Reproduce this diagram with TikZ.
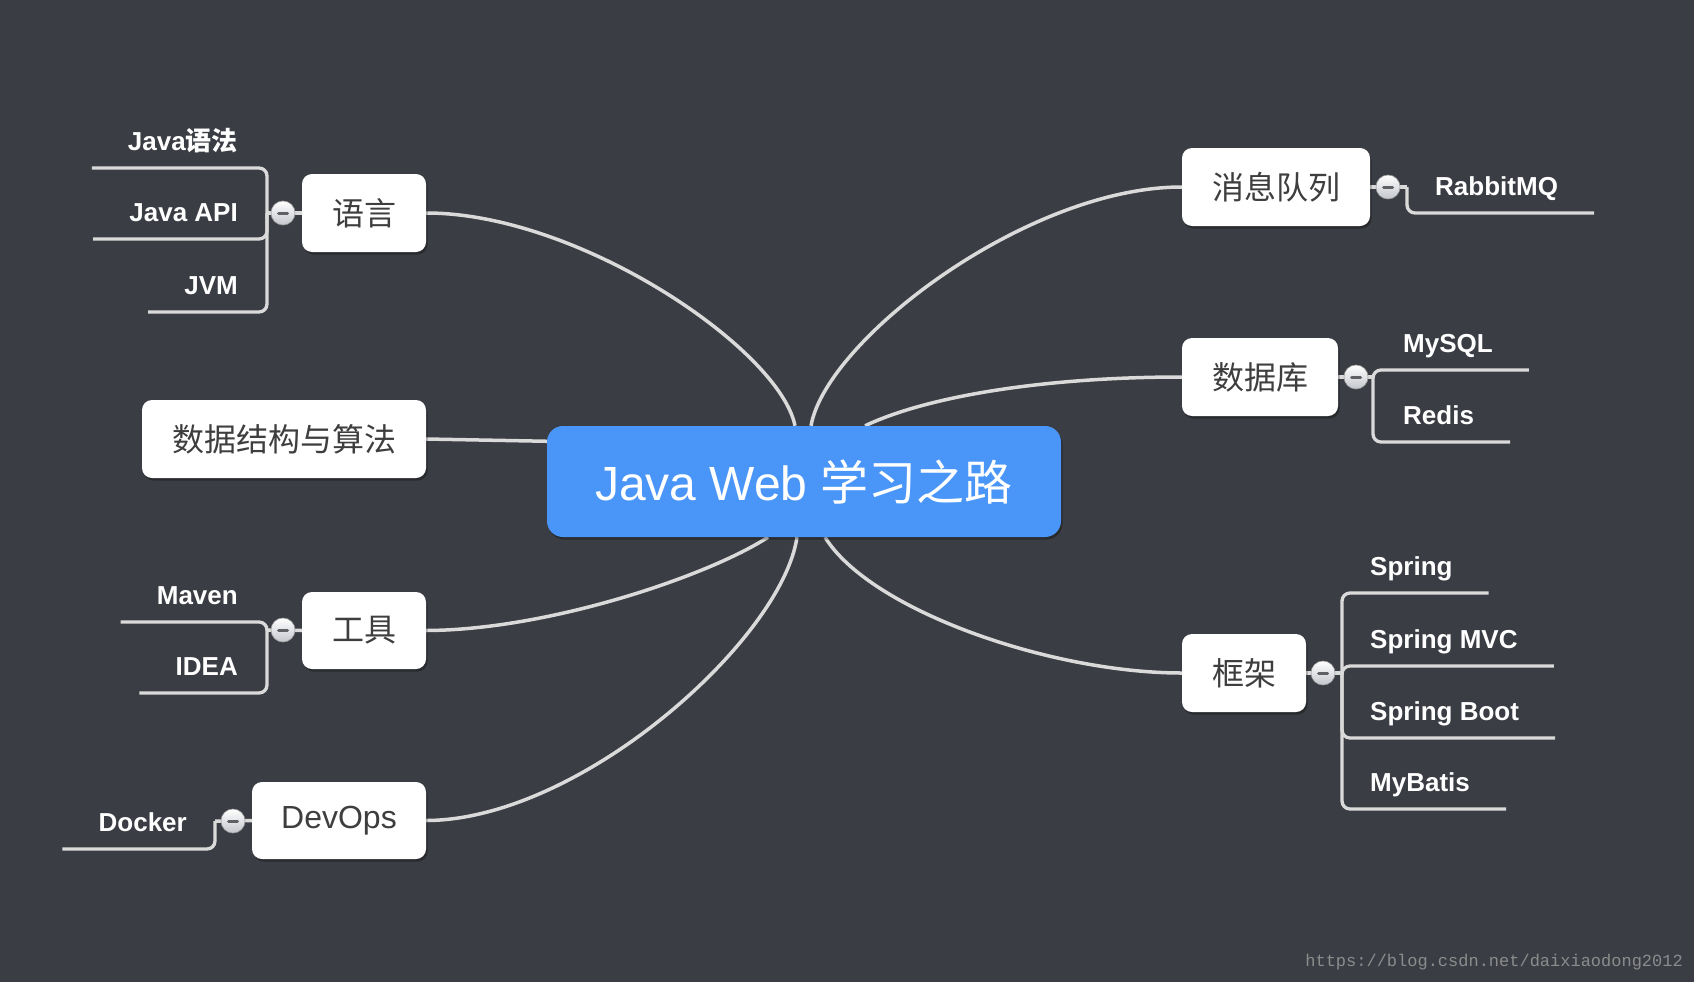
\documentclass[tikz,border=0pt]{standalone}
\usepackage{fontspec}
\setmainfont{Liberation Sans}
\newfontfamily\cjk{Noto Sans CJK SC}
\newfontfamily\wmfont{Liberation Mono}
\usetikzlibrary{shadows,calc}
\definecolor{bgc}{RGB}{58,61,67}
\definecolor{linec}{RGB}{218,218,218}
\definecolor{rootblue}{RGB}{74,150,248}
\definecolor{boxtext}{RGB}{62,62,62}
\definecolor{collgray}{RGB}{196,198,204}
\definecolor{minusc}{RGB}{95,95,100}
\definecolor{wmc}{RGB}{140,140,140}
\pgfdeclarelayer{back}
\pgfsetlayers{back,main}
\tikzset{
  rootbox/.style={fill=rootblue, rounded corners=16pt, inner sep=0pt, text=white,
    font=\fontsize{48}{56}\selectfont,
    drop shadow={shadow xshift=1.5pt, shadow yshift=-2.5pt, opacity=0.3, fill=black}},
  topic/.style={fill=white, rounded corners=10pt, inner sep=0pt, text=boxtext,
    font=\cjk\fontsize{32}{36}\selectfont,
    drop shadow={shadow xshift=1.5pt, shadow yshift=-2.5pt, opacity=0.3, fill=black}},
  leaf/.style={inner sep=0pt, text=white, font=\bfseries\fontsize{26}{30}\selectfont},
  branch/.style={draw=linec, line width=3.5pt},
  sub/.style={draw=linec, line width=3.3pt, rounded corners=8pt},
  collapse/.style={circle, minimum size=24pt, inner sep=0pt, draw=gray!75, line width=0.6pt,
    top color=white, bottom color=collgray,
    path picture={\draw[line width=3pt, draw=minusc, line cap=round]
      ([xshift=-4.5pt]path picture bounding box.center) -- ([xshift=4.5pt]path picture bounding box.center);}},
}
\begin{document}
\begin{tikzpicture}[x=1pt,y=-1pt]
\useasboundingbox (0,0) rectangle (1694,982);

% root and main topics
\node[rootbox, minimum width=514pt, minimum height=111pt] (root) at (804,481.5) {Java Web {\cjk 学习之路}};
\node[topic, minimum width=124pt, minimum height=78pt] (lang) at (364,213) {语言};
\node[topic, minimum width=284pt, minimum height=78pt] (dsa) at (284,439) {数据结构与算法};
\node[topic, minimum width=124pt, minimum height=77pt] (tool) at (364,630.5) {工具};
\node[topic, minimum width=174pt, minimum height=77pt, font=\fontsize{32}{36}\selectfont] (devops) at (339,820.5) {DevOps};
\node[topic, minimum width=188pt, minimum height=78pt] (mq) at (1276,187) {消息队列};
\node[topic, minimum width=156pt, minimum height=78pt] (db) at (1260,377) {数据库};
\node[topic, minimum width=124pt, minimum height=78pt] (fw) at (1244,673) {框架};

% collapse buttons
\node[collapse] (clang) at (283,213) {};
\node[collapse] (ctool) at (283,630) {};
\node[collapse] (cdev) at (233,821) {};
\node[collapse] (cmq) at (1388,187) {};
\node[collapse] (cdb) at (1356,377) {};
\node[collapse] (cfw) at (1323,673) {};

% junctions
\coordinate (jlang) at (267,213);
\coordinate (jtool) at (267,630);
\coordinate (jdev) at (215,821);
\coordinate (jmq) at (1407,187);
\coordinate (jdb) at (1373,377);
\coordinate (jfw) at (1342,673);

% leaves (left)
\node[leaf, anchor=base east] (l1) at (238,150.5) {Java{\cjk 语法}};
\node[leaf, anchor=base east] (l2) at (238,221.5) {Java API};
\node[leaf, anchor=base east] (l3) at (238,294.5) {JVM};
\node[leaf, anchor=base east] (t1) at (238,604.5) {Maven};
\node[leaf, anchor=base east] (t2) at (238,675.5) {IDEA};
\node[leaf, anchor=base east] (d1) at (187,831.5) {Docker};
% leaves (right)
\node[leaf, anchor=base west] (m1) at (1435,195.5) {RabbitMQ};
\node[leaf, anchor=base west] (b1) at (1403,352.5) {MySQL};
\node[leaf, anchor=base west] (b2) at (1403,424.5) {Redis};
\node[leaf, anchor=base west] (f1) at (1370,575.5) {Spring};
\node[leaf, anchor=base west] (f2) at (1370,648.5) {Spring MVC};
\node[leaf, anchor=base west] (f3) at (1370,720.5) {Spring Boot};
\node[leaf, anchor=base west] (f4) at (1370,791.5) {MyBatis};

% watermark
\node[anchor=east, inner sep=0pt, text=wmc, font=\wmfont\fontsize{17}{20}\selectfont] (wm) at (1683,962) {https://blog.csdn.net/daixiaodong2012};

\begin{pgfonlayer}{back}
\fill[bgc] (0,0) rectangle (1694,982);
% main branches
\draw[branch] ([xshift=-9pt]root.north) .. controls (780,350) and (580,213) .. (lang.east);
\draw[branch] ([xshift=7pt]root.north) .. controls (826,340) and (1027,187) .. (mq.west);
\draw[branch] ([xshift=61pt]root.north) .. controls (930,395) and (1050,377) .. (db.west);
\draw[branch] ([xshift=12pt,yshift=40pt]root.west) -- (dsa.east);
\draw[branch] ([xshift=-36pt]root.south) .. controls (710,575) and (550,630) .. (tool.east);
\draw[branch] ([xshift=-7pt]root.south) .. controls (782,639) and (581,820) .. (devops.east);
\draw[branch] ([xshift=21pt]root.south) .. controls (870,610) and (1050,673) .. (fw.west);
% topic to collapse to junction
\draw[branch] (lang.west) -- (clang.center) -- (jlang);
\draw[branch] (tool.west) -- (ctool.center) -- (jtool);
\draw[branch] (devops.west) -- (cdev.center) -- (jdev);
\draw[branch] (mq.east) -- (cmq.center) -- (jmq);
\draw[branch] (db.east) -- (cdb.center) -- (jdb);
\draw[branch] (fw.east) -- (cfw.center) -- (jfw);
\end{pgfonlayer}

% sub branches
\draw[sub] (jlang) |- ($(l1.base west)+(-36,17.5)$);
\draw[sub] (jlang) |- ($(l2.base west)+(-36,17.5)$);
\draw[sub] (jlang) |- ($(l3.base west)+(-36,17.5)$);
\draw[sub] (jtool) |- ($(t1.base west)+(-36,17.5)$);
\draw[sub] (jtool) |- ($(t2.base west)+(-36,17.5)$);
\draw[sub] (jdev) |- ($(d1.base west)+(-36,17.5)$);
\draw[sub] (jmq) |- ($(m1.base east)+(36,17.5)$);
\draw[sub] (jdb) |- ($(b1.base east)+(36,17.5)$);
\draw[sub] (jdb) |- ($(b2.base east)+(36,17.5)$);
\draw[sub] (jfw) |- ($(f1.base east)+(36,17.5)$);
\draw[sub] (jfw) |- ($(f2.base east)+(36,17.5)$);
\draw[sub] (jfw) |- ($(f3.base east)+(36,17.5)$);
\draw[sub] (jfw) |- ($(f4.base east)+(36,17.5)$);
\end{tikzpicture}
\end{document}
